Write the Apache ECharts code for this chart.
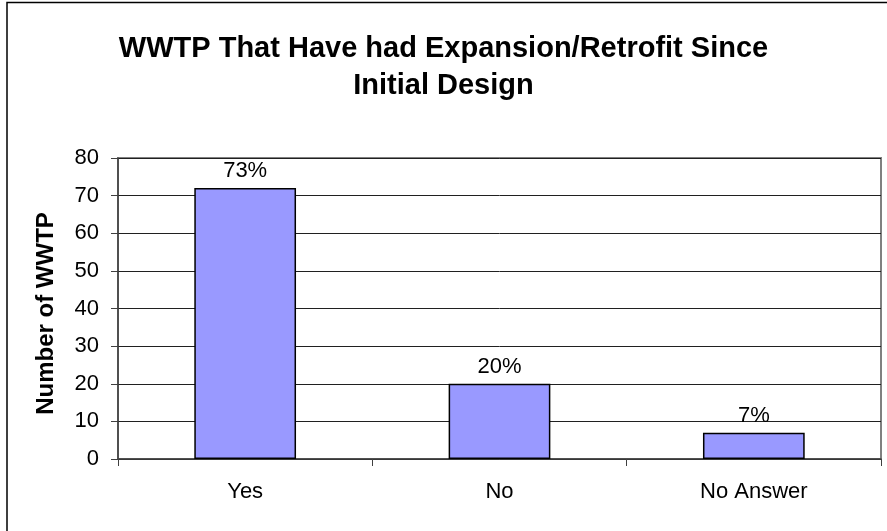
<!DOCTYPE html>
<html>
<head>
<meta charset="utf-8">
<style>
  html, body { margin: 0; padding: 0; background: #fff; }
  #chart { width: 887px; height: 531px; }
</style>
<script src="https://cdn.jsdelivr.net/npm/echarts@6/dist/echarts.min.js"></script>
</head>
<body>
<div id="chart"></div>
<script>
// Survey responses: plants with an expansion or retrofit since initial design
const categories = ['Yes', 'No', 'No Answer'];
const plantCounts = [72, 20, 7];
const shareLabels = ['73%', '20%', '7%'];

const chart = echarts.init(document.getElementById('chart'), null, { renderer: 'canvas' });

const FONT = 'Liberation Sans, Arial, sans-serif';

chart.setOption({
  animation: false,
  backgroundColor: '#ffffff',
  title: {
    text: 'WWTP That Have had Expansion/Retrofit Since\nInitial Design',
    left: 'center',
    top: 25,
    textStyle: {
      fontFamily: FONT,
      fontSize: 29,
      fontWeight: 'bold',
      color: '#000',
      lineHeight: 37
    }
  },
  grid: {
    left: 118,
    top: 158,
    right: 6,
    bottom: 72,
    show: true,
    borderColor: '#808080',
    borderWidth: 2,
    backgroundColor: 'transparent'
  },
  xAxis: {
    type: 'category',
    data: categories,
    axisLine: { show: true, lineStyle: { color: '#404040', width: 1.5 } },
    axisTick: { show: true, alignWithLabel: false, length: 7, lineStyle: { color: '#404040' } },
    axisLabel: {
      fontFamily: FONT,
      fontSize: 22,
      color: '#000',
      margin: 22
    }
  },
  yAxis: {
    type: 'value',
    min: 0,
    max: 80,
    interval: 10,
    name: 'Number of WWTP',
    nameLocation: 'middle',
    nameRotate: 90,
    nameGap: 60,
    nameTextStyle: {
      fontFamily: FONT,
      fontSize: 24,
      fontWeight: 'bold',
      color: '#000',
      padding: [0, 10, 0, 0]
    },
    axisLine: { show: true, lineStyle: { color: '#404040', width: 1.5 } },
    axisTick: { show: true, length: 7, lineStyle: { color: '#404040' } },
    splitLine: { show: true, lineStyle: { color: '#202020', width: 1 } },
    axisLabel: {
      fontFamily: FONT,
      fontSize: 22,
      color: '#000',
      margin: 19
    }
  },
  series: [{
    type: 'bar',
    data: plantCounts,
    barWidth: '40%',
    itemStyle: { color: '#9999ff', borderColor: '#000', borderWidth: 1.5 },
    label: {
      show: true,
      position: 'top',
      distance: 6,
      fontFamily: FONT,
      fontSize: 22,
      color: '#000',
      formatter: p => shareLabels[p.dataIndex]
    }
  }],
  graphic: [{
    type: 'rect',
    silent: true,
    shape: { x: 7, y: 2.5, width: 920, height: 560 },
    style: { fill: 'none', stroke: '#000', lineWidth: 1.5 }
  }]
});
</script>
</body>
</html>
